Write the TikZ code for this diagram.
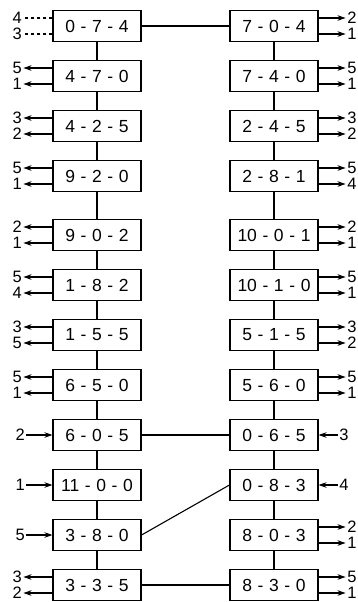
\documentclass[tikz,border=0pt]{standalone}
\usepackage{fontspec}
\setmainfont{Liberation Sans}
\usepackage{tikz}
\usetikzlibrary{arrows.meta}
\usetikzlibrary{positioning}
\newcommand{\jugfont}{\fontsize{17.5}{20}\selectfont\spaceskip 0.32em\relax}
\tikzstyle{jugstate} = [rectangle, minimum width=88pt, minimum height=31pt, inner sep=0pt, text centered, draw=black, line width=1.1pt, font=\jugfont]
\tikzstyle{numlbl} = [inner sep=1.5pt, font=\fontsize{16.5}{18}\selectfont, text height=11.8pt, text depth=0pt]
\tikzstyle{arrow} = [line width=1.1pt, -{Stealth[length=8pt,width=5.5pt]}]
\tikzstyle{link} = [line width=1.1pt]
\tikzstyle{dashlink} = [line width=1.1pt, dashed]

\begin{document}
\begin{tikzpicture}[node distance=50pt]
\useasboundingbox (0,0) rectangle (357pt,-602pt);

% left column
\node [jugstate] (l1) at (97pt,-26pt) {0 - 7 - 4};
\node [jugstate, below of = l1] (l2) {4 - 7 - 0};
\node [jugstate, below of = l2] (l3) {4 - 2 - 5};
\node [jugstate, below of = l3] (l4) {9 - 2 - 0};
\node [jugstate, below of = l4, yshift=-9pt] (l5) {9 - 0 - 2};
\node [jugstate, below of = l5] (l6) {1 - 8 - 2};
\node [jugstate, below of = l6] (l7) {1 - 5 - 5};
\node [jugstate, below of = l7] (l8) {6 - 5 - 0};
\node [jugstate, below of = l8] (l9) {6 - 0 - 5};
\node [jugstate, below of = l9] (l10) {11 - 0 - 0};
\node [jugstate, below of = l10] (l11) {3 - 8 - 0};
\node [jugstate, below of = l11] (l12) {3 - 3 - 5};

% right column
\node [jugstate, right of = l1, xshift=127pt] (r1) {7 - 0 - 4};
\node [jugstate, below of = r1] (r2) {7 - 4 - 0};
\node [jugstate, below of = r2] (r3) {2 - 4 - 5};
\node [jugstate, below of = r3] (r4) {2 - 8 - 1};
\node [jugstate, below of = r4, yshift=-9pt] (r5) {10 - 0 - 1};
\node [jugstate, below of = r5] (r6) {10 - 1 - 0};
\node [jugstate, below of = r6] (r7) {5 - 1 - 5};
\node [jugstate, below of = r7] (r8) {5 - 6 - 0};
\node [jugstate, below of = r8] (r9) {0 - 6 - 5};
\node [jugstate, below of = r9] (r10) {0 - 8 - 3};
\node [jugstate, below of = r10] (r11) {8 - 0 - 3};
\node [jugstate, below of = r11] (r12) {8 - 3 - 0};

% left labels
\node [numlbl, left=29pt of l1.west, yshift=8pt] (l1a) {4};
\node [numlbl, left=29pt of l1.west, yshift=-8pt] (l1b) {3};
\node [numlbl, left=29pt of l2.west, yshift=8pt] (l2a) {5};
\node [numlbl, left=29pt of l2.west, yshift=-8pt] (l2b) {1};
\node [numlbl, left=29pt of l3.west, yshift=8pt] (l3a) {3};
\node [numlbl, left=29pt of l3.west, yshift=-8pt] (l3b) {2};
\node [numlbl, left=29pt of l4.west, yshift=8pt] (l4a) {5};
\node [numlbl, left=29pt of l4.west, yshift=-8pt] (l4b) {1};
\node [numlbl, left=29pt of l5.west, yshift=8pt] (l5a) {2};
\node [numlbl, left=29pt of l5.west, yshift=-8pt] (l5b) {1};
\node [numlbl, left=29pt of l6.west, yshift=8pt] (l6a) {5};
\node [numlbl, left=29pt of l6.west, yshift=-8pt] (l6b) {4};
\node [numlbl, left=29pt of l7.west, yshift=8pt] (l7a) {3};
\node [numlbl, left=29pt of l7.west, yshift=-8pt] (l7b) {5};
\node [numlbl, left=29pt of l8.west, yshift=8pt] (l8a) {5};
\node [numlbl, left=29pt of l8.west, yshift=-8pt] (l8b) {1};
\node [numlbl, left=26pt of l9.west] (l9a) {2};
\node [numlbl, left=26pt of l10.west] (l10a) {1};
\node [numlbl, left=26pt of l11.west] (l11a) {5};
\node [numlbl, left=29pt of l12.west, yshift=8pt] (l12a) {3};
\node [numlbl, left=29pt of l12.west, yshift=-8pt] (l12b) {2};

% right labels
\node [numlbl, right=27pt of r1.east, yshift=8pt] (r1a) {2};
\node [numlbl, right=27pt of r1.east, yshift=-8pt] (r1b) {1};
\node [numlbl, right=27pt of r2.east, yshift=8pt] (r2a) {5};
\node [numlbl, right=27pt of r2.east, yshift=-8pt] (r2b) {1};
\node [numlbl, right=27pt of r3.east, yshift=8pt] (r3a) {3};
\node [numlbl, right=27pt of r3.east, yshift=-8pt] (r3b) {2};
\node [numlbl, right=27pt of r4.east, yshift=8pt] (r4a) {5};
\node [numlbl, right=27pt of r4.east, yshift=-8pt] (r4b) {4};
\node [numlbl, right=27pt of r5.east, yshift=8pt] (r5a) {2};
\node [numlbl, right=27pt of r5.east, yshift=-8pt] (r5b) {1};
\node [numlbl, right=27pt of r6.east, yshift=8pt] (r6a) {5};
\node [numlbl, right=27pt of r6.east, yshift=-8pt] (r6b) {1};
\node [numlbl, right=27pt of r7.east, yshift=8pt] (r7a) {3};
\node [numlbl, right=27pt of r7.east, yshift=-8pt] (r7b) {2};
\node [numlbl, right=27pt of r8.east, yshift=8pt] (r8a) {5};
\node [numlbl, right=27pt of r8.east, yshift=-8pt] (r8b) {1};
\node [numlbl, right=19pt of r9.east] (r9a) {3};
\node [numlbl, right=19pt of r10.east] (r10a) {4};
\node [numlbl, right=27pt of r11.east, yshift=8pt] (r11a) {2};
\node [numlbl, right=27pt of r11.east, yshift=-8pt] (r11b) {1};
\node [numlbl, right=27pt of r12.east, yshift=8pt] (r12a) {5};
\node [numlbl, right=27pt of r12.east, yshift=-8pt] (r12b) {1};

% column links
\draw [link] (l1) -- (l2);
\draw [link] (l2) -- (l3);
\draw [link] (l3) -- (l4);
\draw [link] (l4) -- (l5);
\draw [link] (l5) -- (l6);
\draw [link] (l6) -- (l7);
\draw [link] (l7) -- (l8);
\draw [link] (l8) -- (l9);
\draw [link] (l9) -- (l10);
\draw [link] (l10) -- (l11);
\draw [link] (l11) -- (l12);
\draw [link] (r1) -- (r2);
\draw [link] (r2) -- (r3);
\draw [link] (r3) -- (r4);
\draw [link] (r4) -- (r5);
\draw [link] (r5) -- (r6);
\draw [link] (r6) -- (r7);
\draw [link] (r7) -- (r8);
\draw [link] (r8) -- (r9);
\draw [link] (r9) -- (r10);
\draw [link] (r10) -- (r11);
\draw [link] (r11) -- (r12);

% cross links
\draw [link] (l1) -- (r1);
\draw [link] (l9) -- (r9);
\draw [link] (l11.east) -- (r10.west);
\draw [link] (l12) -- (r12);

% left arrows
\draw [dashlink] (l1.west |- l1a) -- (l1a);
\draw [dashlink] (l1.west |- l1b) -- (l1b);
\draw [arrow] (l2.west |- l2a) -- (l2a);
\draw [arrow] (l2.west |- l2b) -- (l2b);
\draw [arrow] (l3.west |- l3a) -- (l3a);
\draw [arrow] (l3.west |- l3b) -- (l3b);
\draw [arrow] (l4.west |- l4a) -- (l4a);
\draw [arrow] (l4.west |- l4b) -- (l4b);
\draw [arrow] (l5.west |- l5a) -- (l5a);
\draw [arrow] (l5.west |- l5b) -- (l5b);
\draw [arrow] (l6.west |- l6a) -- (l6a);
\draw [arrow] (l6.west |- l6b) -- (l6b);
\draw [arrow] (l7.west |- l7a) -- (l7a);
\draw [arrow] (l7.west |- l7b) -- (l7b);
\draw [arrow] (l8.west |- l8a) -- (l8a);
\draw [arrow] (l8.west |- l8b) -- (l8b);
\draw [arrow] (l9a) -- (l9);
\draw [arrow] (l10a) -- (l10);
\draw [arrow] (l11a) -- (l11);
\draw [arrow] (l12.west |- l12a) -- (l12a);
\draw [arrow] (l12.west |- l12b) -- (l12b);

% right arrows
\draw [arrow] (r1.east |- r1a) -- (r1a);
\draw [arrow] (r1.east |- r1b) -- (r1b);
\draw [arrow] (r2.east |- r2a) -- (r2a);
\draw [arrow] (r2.east |- r2b) -- (r2b);
\draw [arrow] (r3.east |- r3a) -- (r3a);
\draw [arrow] (r3.east |- r3b) -- (r3b);
\draw [arrow] (r4.east |- r4a) -- (r4a);
\draw [arrow] (r4.east |- r4b) -- (r4b);
\draw [arrow] (r5.east |- r5a) -- (r5a);
\draw [arrow] (r5.east |- r5b) -- (r5b);
\draw [arrow] (r6.east |- r6a) -- (r6a);
\draw [arrow] (r6.east |- r6b) -- (r6b);
\draw [arrow] (r7.east |- r7a) -- (r7a);
\draw [arrow] (r7.east |- r7b) -- (r7b);
\draw [arrow] (r8.east |- r8a) -- (r8a);
\draw [arrow] (r8.east |- r8b) -- (r8b);
\draw [arrow] (r9a) -- (r9);
\draw [arrow] (r10a) -- (r10);
\draw [arrow] (r11.east |- r11a) -- (r11a);
\draw [arrow] (r11.east |- r11b) -- (r11b);
\draw [arrow] (r12.east |- r12a) -- (r12a);
\draw [arrow] (r12.east |- r12b) -- (r12b);

\end{tikzpicture}
\end{document}
